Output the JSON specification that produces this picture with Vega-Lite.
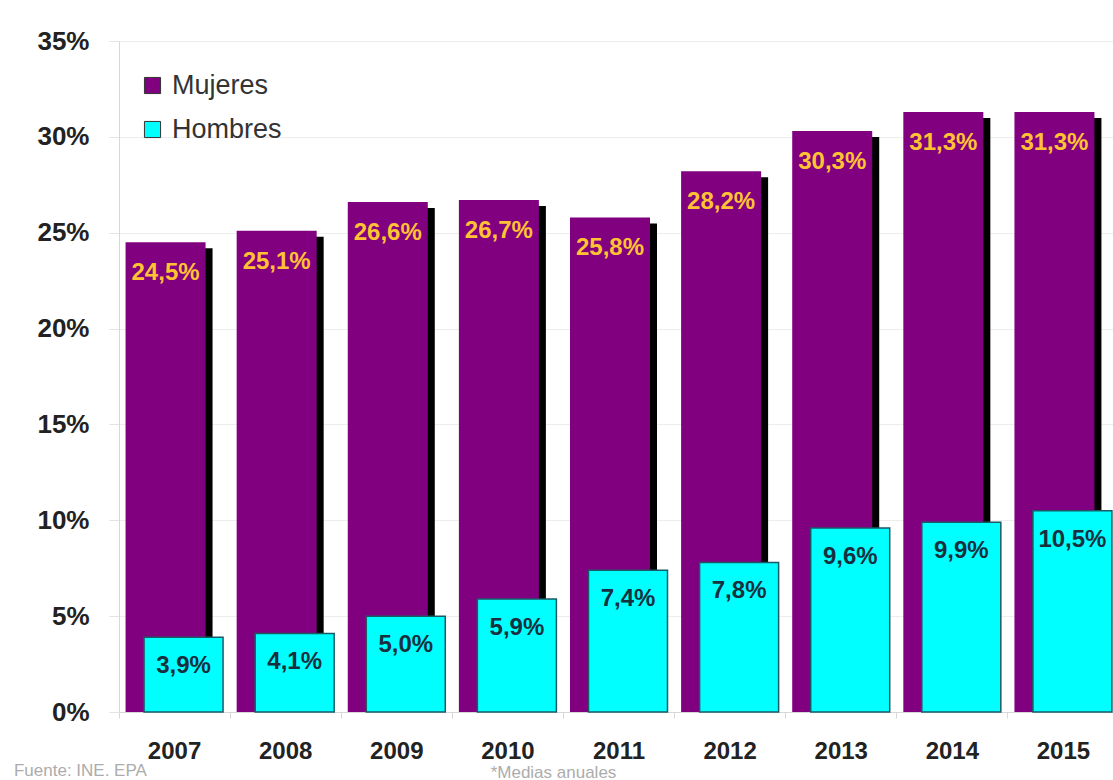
{
  "$schema": "https://vega.github.io/schema/vega-lite/v6.json",
  "width": 1000,
  "height": 671,
  "padding": {"left": 13, "top": 28, "right": 0, "bottom": 0},
  "background": "white",
  "config": {
    "locale": {"number": {"decimal": ",", "thousands": ".", "grouping": [3], "currency": ["", " €"]}},
    "view": {"stroke": null},
    "font": "Liberation Sans"
  },
  "title": {"text": "Fuente: INE. EPA", "orient": "bottom", "anchor": "start", "fontSize": 17, "fontWeight": "normal", "color": "#acacac", "offset": -17, "dx": -23, "font": "Liberation Sans"},
  "data": {"values": [
    {"year": "2007", "sexo": "Mujeres", "value": 0.245},
    {"year": "2008", "sexo": "Mujeres", "value": 0.251},
    {"year": "2009", "sexo": "Mujeres", "value": 0.266},
    {"year": "2010", "sexo": "Mujeres", "value": 0.267},
    {"year": "2011", "sexo": "Mujeres", "value": 0.258},
    {"year": "2012", "sexo": "Mujeres", "value": 0.282},
    {"year": "2013", "sexo": "Mujeres", "value": 0.303},
    {"year": "2014", "sexo": "Mujeres", "value": 0.313},
    {"year": "2015", "sexo": "Mujeres", "value": 0.313},
    {"year": "2007", "sexo": "Hombres", "value": 0.039},
    {"year": "2008", "sexo": "Hombres", "value": 0.041},
    {"year": "2009", "sexo": "Hombres", "value": 0.050},
    {"year": "2010", "sexo": "Hombres", "value": 0.059},
    {"year": "2011", "sexo": "Hombres", "value": 0.074},
    {"year": "2012", "sexo": "Hombres", "value": 0.078},
    {"year": "2013", "sexo": "Hombres", "value": 0.096},
    {"year": "2014", "sexo": "Hombres", "value": 0.099},
    {"year": "2015", "sexo": "Hombres", "value": 0.105}
  ]},
  "encoding": {
    "x": {
      "field": "year", "type": "ordinal",
      "scale": {"paddingInner": 0, "paddingOuter": 0},
      "axis": {
        "title": "*Medias anuales", "titleFontSize": 17, "titleFontWeight": "normal", "titleColor": "#acacac", "titlePadding": 1, "titleX": 434,
        "labelAngle": 0, "labelFontSize": 24, "labelFontWeight": "bold", "labelColor": "#222222", "labelPadding": 21,
        "tickSize": 6, "tickColor": "#d8d8d8", "domainColor": "#d8d8d8", "bandPosition": 0
      }
    },
    "y": {
      "field": "value", "type": "quantitative",
      "scale": {"domain": [0, 0.35]},
      "axis": {
        "title": null, "format": ".0%", "values": [0, 0.05, 0.1, 0.15, 0.2, 0.25, 0.3, 0.35],
        "labelFontSize": 26, "labelFontWeight": "bold", "labelColor": "#222222", "labelPadding": 20,
        "tickSize": 10, "tickColor": "#e4e4e4", "gridColor": "#ededed", "domainColor": "#d8d8d8"
      }
    }
  },
  "layer": [
    {
      "transform": [{"filter": "datum.sexo === 'Mujeres'"}],
      "mark": {"type": "bar", "color": "#000000", "width": 80, "xOffset": -2, "yOffset": 6, "y2Offset": 0},
      "encoding": {"y2": {"datum": 0}}
    },
    {
      "transform": [{"filter": "datum.sexo === 'Mujeres'"}],
      "mark": {"type": "bar", "width": 80, "xOffset": -9, "opacity": 1},
      "encoding": {
        "color": {
          "field": "sexo", "type": "nominal",
          "scale": {"domain": ["Mujeres", "Hombres"], "range": ["#800080", "#00FFFF"]},
          "legend": {
            "title": null, "orient": "none", "legendX": 20, "legendY": 31,
            "symbolType": "square", "symbolSize": 260, "symbolStrokeColor": "#333333", "symbolStrokeWidth": 1,
            "labelFontSize": 27, "labelColor": "#333333", "labelFont": "Liberation Sans", "rowPadding": 16, "labelOffset": 6
          }
        }
      }
    },
    {
      "transform": [{"filter": "datum.sexo === 'Mujeres'"}],
      "mark": {"type": "text", "xOffset": -9, "dy": 31, "baseline": "middle", "align": "center", "fontSize": 24, "fontWeight": "bold", "color": "#FFC233"},
      "encoding": {"text": {"field": "value", "type": "quantitative", "format": ".1%"}}
    },
    {
      "transform": [{"filter": "datum.sexo === 'Hombres'"}],
      "mark": {"type": "bar", "width": 79, "xOffset": 9, "stroke": "#1a5a66", "strokeWidth": 1.5, "opacity": 1},
      "encoding": {"color": {"field": "sexo", "type": "nominal"}}
    },
    {
      "transform": [{"filter": "datum.sexo === 'Hombres'"}],
      "mark": {"type": "text", "xOffset": 9, "dy": 29, "baseline": "middle", "align": "center", "fontSize": 24, "fontWeight": "bold", "color": "#17303f"},
      "encoding": {"text": {"field": "value", "type": "quantitative", "format": ".1%"}}
    }
  ]
}
